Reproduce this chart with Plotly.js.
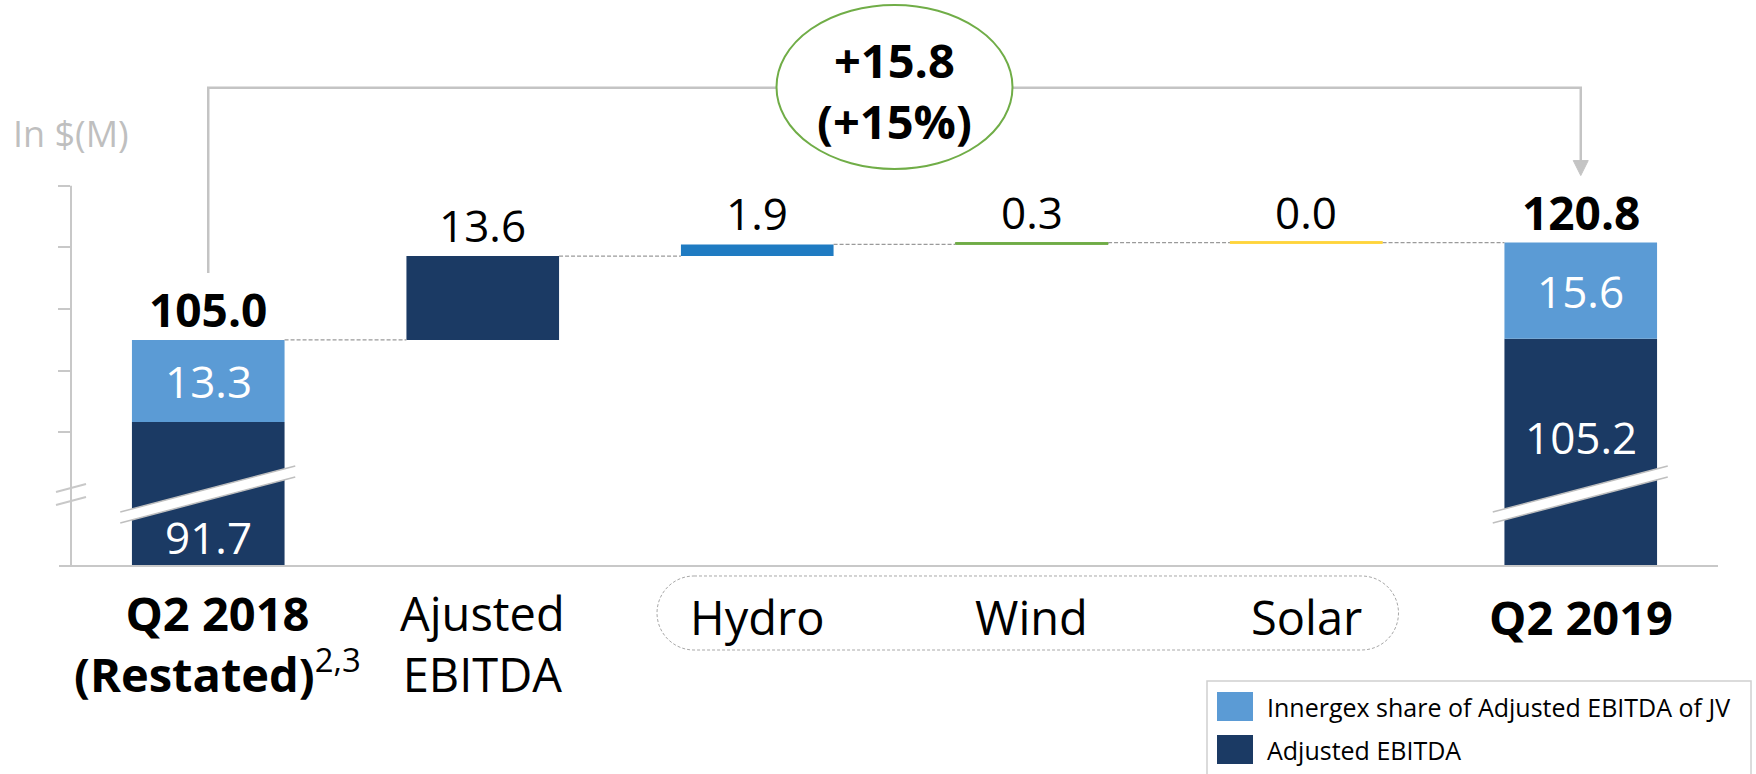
<!DOCTYPE html>
<html>
<head>
<meta charset="utf-8">
<script src="https://cdn.plot.ly/plotly-3.0.1.min.js"></script>
<style>
html,body{margin:0;padding:0;background:#fff;overflow:hidden}
#chart{width:1756px;height:774px}
</style>
</head>
<body>
<div id="chart"></div>
<script>
// ---------------- data ----------------
const categories = ['Q2 2018', 'Ajusted EBITDA', 'Hydro', 'Wind', 'Solar', 'Q2 2019'];
const categoryLabelLines = [
  ['<b>Q2 2018</b>', '<b>(Restated)</b><sup>2,3</sup>'],
  ['Ajusted', 'EBITDA'],
  ['Hydro'],
  ['Wind'],
  ['Solar'],
  ['<b>Q2 2019</b>']
];
const seriesNames = ['Innergex share of Adjusted EBITDA of JV', 'Adjusted EBITDA'];
const totalCategories = ['Q2 2018', 'Q2 2019'];
const totalAdjusted = [91.7, 105.2];
const totalJV = [13.3, 15.6];
const changeCategories = ['Ajusted EBITDA', 'Hydro', 'Wind', 'Solar'];
const changeValues = [13.6, 1.9, 0.3, 0.0];
const yTicks = [90, 100, 110, 120, 130];
const unitLabel = 'In $(M)';

// ---------------- styles / geometry ----------------
const COL_DARK = '#1B3A64', COL_LIGHT = '#5B9BD5';
const changeColors = ['#1B3A64', '#1F7BC2', '#70AD47', '#FFD43B'];
const GRAY = '#c8c8c8';
const FONT = 'Open Sans, Noto Sans, sans-serif';
const W = 1756, H = 774;
const M = {l: 71, r: 38, t: 155, b: 208};
const PW = W - M.l - M.r, PH = H - M.t - M.b;
const Y_MIN = 68.34, Y_MAX = 135;
const BAR_W = 0.556;
const nCat = categories.length;
const catIndex = c => categories.indexOf(c);
const Xc = i => M.l + (i + 0.5) * PW / nCat;
const Yv = v => M.t + PH - (v - Y_MIN) * PH / (Y_MAX - Y_MIN);
const px = X => (X - M.l) / PW;
const py = Y => (M.t + PH - Y) / PH;
const pt = (X, Y) => px(X).toFixed(5) + ',' + py(Y).toFixed(5);
const BW_PX = BAR_W * PW / nCat;

// ---------------- derived values ----------------
const totals = totalAdjusted.map((v, i) => Math.round((v + totalJV[i]) * 10) / 10);
let run = totals[0];
const changeBases = changeValues.map(v => { const b = run; run = Math.round((run + v) * 10) / 10; return b; });
const delta = totals[1] - totals[0];
const pct = Math.round(delta / totals[0] * 100);

// ---------------- traces ----------------
const traces = [
  {type: 'bar', name: seriesNames[1], x: totalCategories, y: totalAdjusted, base: totalAdjusted.map(() => 0),
   width: BAR_W, marker: {color: COL_DARK}, hoverinfo: 'skip'},
  {type: 'bar', name: seriesNames[0], x: totalCategories, y: totalJV, base: totalAdjusted,
   width: BAR_W, marker: {color: COL_LIGHT}, hoverinfo: 'skip'},
  {type: 'bar', name: 'change', x: changeCategories, y: changeValues, base: changeBases,
   width: BAR_W, marker: {color: changeColors, line: {color: changeColors, width: [0, 0, 1, 2.5]}}, hoverinfo: 'skip'}
];

// ---------------- shapes ----------------
const shapes = [];
const line = (x0, y0, x1, y1, color, width, dash) => shapes.push({type: 'line', xref: 'paper', yref: 'paper',
  x0: px(x0), y0: py(y0), x1: px(x1), y1: py(y1), line: {color: color, width: width, dash: dash || 'solid'}});
const path = (d, fill, lineColor, lineWidth, dash) => shapes.push({type: 'path', xref: 'paper', yref: 'paper', path: d,
  fillcolor: fill || 'rgba(0,0,0,0)', line: {color: lineColor || 'rgba(0,0,0,0)', width: lineWidth || 0, dash: dash || 'solid'}});

// y axis line (to top tick) and baseline
line(M.l, Yv(yTicks[yTicks.length - 1]), M.l, M.t + PH, GRAY, 2);
line(M.l - 12, M.t + PH, M.l + PW, M.t + PH, GRAY, 2);
// axis break marks
line(56, 492, 86, 484, GRAY, 2);
line(56, 505, 86, 497, GRAY, 2);

// connectors
const levels = [totals[0]].concat(changeBases.map((b, i) => b + changeValues[i]));
for (let i = 0; i < nCat - 1; i++) {
  const Y = Yv(levels[i]);
  line(Xc(i) + BW_PX / 2, Y, Xc(i + 1) - BW_PX / 2, Y, '#9a9a9a', 1.3, '4px,2px');
}
// zero-height change marks
changeValues.forEach((v, k) => {
  if (v === 0) {
    const i = catIndex(changeCategories[k]);
    const Y = Yv(changeBases[k]);
    line(Xc(i) - BW_PX / 2, Y, Xc(i) + BW_PX / 2, Y, changeColors[k], 2.5);
  }
});

// bar breaks
totalCategories.forEach(c => {
  const X = Xc(catIndex(c));
  path('M' + pt(X - 88, 512) + ' L' + pt(X + 87, 466) + ' L' + pt(X + 87, 477) + ' L' + pt(X - 88, 523) + ' Z', '#ffffff');
  line(X - 88, 512, X + 87, 466, '#bfbfbf', 1.5);
  line(X - 88, 523, X + 87, 477, '#bfbfbf', 1.5);
});

// bracket + arrow
const XL = Xc(catIndex(totalCategories[0])), XR = Xc(catIndex(totalCategories[1]));
const YTOP = 87.7;
path('M' + pt(XL, Yv(totals[0]) - 67) + ' L' + pt(XL, YTOP) + ' L' + pt(XR, YTOP) + ' L' + pt(XR, Yv(totals[1]) - 81),
     null, '#c4c4c4', 2.5);
path('M' + pt(XR - 7.5, Yv(totals[1]) - 82) + ' L' + pt(XR + 7.5, Yv(totals[1]) - 82) + ' L' + pt(XR, Yv(totals[1]) - 67) + ' Z',
     '#c4c4c4', '#c4c4c4', 1);
// ellipse
const XE = (XL + XR) / 2;
shapes.push({type: 'circle', xref: 'paper', yref: 'paper', x0: px(XE - 118), x1: px(XE + 118), y0: py(169), y1: py(5),
  fillcolor: '#ffffff', line: {color: '#70AD47', width: 2}});

// dashed rounded box around Hydro/Wind/Solar
(function () {
  const x0 = 657, x1 = 1398.5, y0 = 576, y1 = 650, r = (y1 - y0) / 2, k = 0.5523 * r;
  const d = 'M' + pt(x0 + r, y0) + ' L' + pt(x1 - r, y0) +
    ' C' + pt(x1 - r + k, y0) + ' ' + pt(x1, y0 + r - k) + ' ' + pt(x1, y0 + r) +
    ' C' + pt(x1, y0 + r + k) + ' ' + pt(x1 - r + k, y1) + ' ' + pt(x1 - r, y1) +
    ' L' + pt(x0 + r, y1) +
    ' C' + pt(x0 + r - k, y1) + ' ' + pt(x0, y1 - r + k) + ' ' + pt(x0, y1 - r) +
    ' C' + pt(x0, y0 + r - k) + ' ' + pt(x0 + r - k, y0) + ' ' + pt(x0 + r, y0) + ' Z';
  path(d, null, '#a8a8a8', 1, '3px,2px');
})();

// custom legend
path('M' + pt(1207, 800) + ' L' + pt(1207, 681) + ' L' + pt(1751, 681) + ' L' + pt(1751, 800), '#ffffff', '#d0d0d0', 1.5);
const legendColors = [COL_LIGHT, COL_DARK];
const legendRowsY = [706.5, 749.5];
legendColors.forEach((c, i) => {
  shapes.push({type: 'rect', xref: 'paper', yref: 'paper', x0: px(1217), x1: px(1253),
    y0: py(legendRowsY[i] + 14.5), y1: py(legendRowsY[i] - 14.5), fillcolor: c, line: {width: 0}});
});

// ---------------- annotations ----------------
const ann = [];
const A = o => ann.push(Object.assign({showarrow: false, xanchor: 'center', yanchor: 'middle'}, o));
const valFont = (size, color) => ({family: FONT, size: size, color: color || '#000'});

// totals
totalCategories.forEach((c, i) => {
  A({xref: 'x', yref: 'y', x: c, y: totals[i], yshift: 31, text: '<b>' + totals[i].toFixed(1) + '</b>', font: valFont(46)});
  A({xref: 'x', yref: 'y', x: c, y: totalAdjusted[i] + totalJV[i] / 2, text: totalJV[i].toFixed(1), font: valFont(44, '#fff')});
});
A({xref: 'x', yref: 'paper', x: totalCategories[0], y: 0, yshift: 29, text: totalAdjusted[0].toFixed(1), font: valFont(44, '#fff')});
A({xref: 'x', yref: 'y', x: totalCategories[1], y: totalAdjusted[1], yshift: -98, text: totalAdjusted[1].toFixed(1), font: valFont(44, '#fff')});
// changes
changeCategories.forEach((c, k) => {
  A({xref: 'x', yref: 'y', x: c, y: changeBases[k] + changeValues[k], yshift: 31, text: changeValues[k].toFixed(1), font: valFont(44)});
});
// category labels
categoryLabelLines.forEach((lines, i) => {
  A({xref: 'x', yref: 'paper', x: categories[i], y: 0, yshift: -50.5 - 27 * (lines.length - 1), xshift: i === 0 ? 9 : 0,
     text: lines.join('<br>'), font: valFont(47)});
});
// ellipse text
A({xref: 'paper', yref: 'paper', x: px(XE), y: py(60.3), text: '<b>+' + delta.toFixed(1) + '</b>', font: valFont(47)});
A({xref: 'paper', yref: 'paper', x: px(XE), y: py(120.5), text: '<b>(+' + pct + '%)</b>', font: valFont(47)});
// unit
A({xref: 'paper', yref: 'paper', x: px(11), y: py(133.4), xanchor: 'left', text: unitLabel, font: valFont(36, '#bfbfbf')});
// legend text
seriesNames.forEach((n, i) => {
  A({xref: 'paper', yref: 'paper', x: px(1265), y: py(legendRowsY[i]), xanchor: 'left', text: n, font: valFont(25)});
});

const layout = {
  width: W, height: H,
  margin: M,
  paper_bgcolor: '#ffffff', plot_bgcolor: '#ffffff',
  font: {family: FONT},
  showlegend: false,
  barmode: 'overlay',
  xaxis: {type: 'category', categoryorder: 'array', categoryarray: categories, range: [-0.5, nCat - 0.5],
          showticklabels: false, ticks: '', showgrid: false, zeroline: false, showline: false, fixedrange: true},
  yaxis: {range: [Y_MIN, Y_MAX], tickvals: yTicks, ticks: 'outside', ticklen: 12, tickwidth: 2, tickcolor: GRAY,
          showticklabels: false, showgrid: false, zeroline: false, showline: false, fixedrange: true},
  shapes: shapes,
  annotations: ann
};

Plotly.newPlot('chart', traces, layout, {displayModeBar: false, staticPlot: true});
</script>
</body>
</html>
